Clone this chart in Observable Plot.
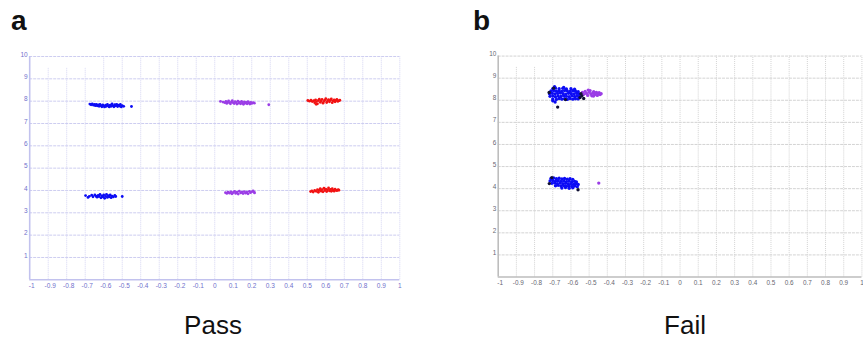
<!DOCTYPE html>
<html>
<head>
<meta charset="utf-8">
<script src="https://cdn.jsdelivr.net/npm/d3@7"></script>
<script src="https://cdn.jsdelivr.net/npm/@observablehq/plot@0.6"></script>
<style>
  html, body { margin: 0; padding: 0; background: #fff; overflow: hidden; }
  #wrap { position: relative; width: 863px; height: 339px; overflow: hidden; background: #fff; font-family: 'Liberation Sans', Arial, sans-serif; }
  .panel { position: absolute; top: 0; }
  .lab { position: absolute; color: #111; }
</style>
</head>
<body>
<div id="wrap">
  <div class="panel" id="pa" style="left:0px"></div>
  <div class="panel" id="pb" style="left:430px"></div>
  <div class="lab" style="left:11px; top:8px; font-size:28px; line-height:26px; font-weight:bold;">a</div>
  <div class="lab" style="left:473px; top:8px; font-size:28px; line-height:26px; font-weight:bold;">b</div>
  <div class="lab" style="left:13px; width:400px; text-align:center; top:314px; font-size:26px; line-height:22px;">Pass</div>
  <div class="lab" style="left:485px; width:400px; text-align:center; top:314px; font-size:26px; line-height:22px;">Fail</div>
</div>
<script>
// ---- tick labels ----
const xTicks = [-1,-0.9,-0.8,-0.7,-0.6,-0.5,-0.4,-0.3,-0.2,-0.1,0,0.1,0.2,0.3,0.4,0.5,0.6,0.7,0.8,0.9,1];
const yTicks = [1,2,3,4,5,6,7,8,9,10];

// ---- panel a (Pass) ----
const aBlueUpper = [[-0.675,7.87],[-0.668,7.84],[-0.662,7.88],[-0.655,7.82],[-0.65,7.86],[-0.645,7.80],[-0.64,7.85],[-0.635,7.79],[-0.63,7.83],[-0.625,7.77],[-0.62,7.86],[-0.615,7.80],[-0.61,7.75],[-0.605,7.83],[-0.60,7.78],[-0.595,7.74],[-0.59,7.82],[-0.585,7.77],[-0.58,7.85],[-0.575,7.79],[-0.57,7.74],[-0.565,7.82],[-0.56,7.77],[-0.555,7.88],[-0.55,7.80],[-0.545,7.75],[-0.54,7.84],[-0.535,7.79],[-0.53,7.86],[-0.525,7.76],[-0.52,7.82],[-0.515,7.78],[-0.51,7.85],[-0.505,7.74],[-0.50,7.80],[-0.492,7.77],[-0.45,7.76]];
const aPurpleUpper = [[0.031,7.99],[0.045,7.96],[0.055,7.93],[0.06,7.99],[0.065,7.90],[0.07,7.96],[0.075,8.01],[0.08,7.92],[0.085,7.88],[0.09,7.97],[0.095,8.02],[0.10,7.93],[0.105,7.89],[0.11,7.98],[0.115,7.94],[0.12,7.87],[0.125,8.00],[0.13,7.91],[0.135,7.96],[0.14,7.88],[0.145,7.99],[0.15,7.93],[0.155,7.86],[0.16,7.97],[0.165,7.91],[0.17,7.95],[0.175,7.88],[0.18,7.98],[0.185,7.92],[0.19,7.87],[0.195,7.95],[0.20,7.90],[0.207,7.93],[0.214,7.91],[0.292,7.84]];
const aRedUpper = [[0.503,8.03],[0.512,8.0],[0.52,8.04],[0.527,7.98],[0.535,8.02],[0.54,7.93],[0.545,8.06],[0.55,7.98],[0.555,7.88],[0.56,8.03],[0.565,8.09],[0.57,7.95],[0.575,8.01],[0.58,8.08],[0.585,7.91],[0.59,7.99],[0.595,8.05],[0.60,8.11],[0.605,7.94],[0.61,8.02],[0.615,8.07],[0.62,7.97],[0.625,8.04],[0.63,8.10],[0.635,7.93],[0.64,8.01],[0.645,8.06],[0.65,7.97],[0.655,8.03],[0.66,8.08],[0.665,7.99],[0.672,8.02],[0.676,8.04],[0.548,7.86]];
const aBlueLower = [[-0.698,3.77],[-0.685,3.69],[-0.678,3.74],[-0.665,3.79],[-0.658,3.72],[-0.648,3.80],[-0.642,3.75],[-0.636,3.70],[-0.63,3.78],[-0.625,3.73],[-0.62,3.82],[-0.615,3.67],[-0.61,3.76],[-0.605,3.71],[-0.60,3.80],[-0.595,3.65],[-0.59,3.74],[-0.585,3.83],[-0.58,3.69],[-0.575,3.77],[-0.57,3.72],[-0.565,3.80],[-0.56,3.68],[-0.555,3.75],[-0.548,3.71],[-0.54,3.78],[-0.535,3.73],[-0.50,3.73]];
const aPurpleLower = [[0.058,3.90],[0.065,3.87],[0.072,3.93],[0.08,3.88],[0.087,3.94],[0.093,3.85],[0.10,3.91],[0.107,3.96],[0.113,3.87],[0.12,3.92],[0.127,3.84],[0.133,3.97],[0.14,3.89],[0.147,3.93],[0.153,3.86],[0.16,3.95],[0.167,3.88],[0.173,3.92],[0.18,3.85],[0.187,3.96],[0.193,3.90],[0.20,3.94],[0.207,3.98],[0.213,3.93],[0.215,3.89]];
const aRedLower = [[0.518,3.95],[0.525,3.98],[0.532,3.93],[0.54,4.0],[0.548,3.96],[0.555,4.04],[0.56,3.92],[0.565,4.01],[0.57,4.08],[0.575,3.97],[0.58,4.04],[0.585,3.94],[0.59,4.10],[0.595,4.00],[0.60,4.06],[0.605,3.95],[0.61,4.03],[0.615,4.11],[0.62,3.98],[0.625,4.05],[0.63,3.96],[0.635,4.08],[0.64,4.01],[0.645,3.97],[0.65,4.06],[0.655,4.02],[0.66,3.99],[0.667,4.04],[0.671,4.01]];

// ---- panel b (Fail) ----
const bBlueUpper = [
 [-0.70,8.06],[-0.68,8.04],[-0.665,8.08],[-0.65,8.05],[-0.635,8.07],[-0.62,8.04],[-0.605,8.08],[-0.59,8.05],[-0.575,8.07],[-0.56,8.06],
 [-0.715,8.18],[-0.70,8.20],[-0.685,8.16],[-0.67,8.19],[-0.655,8.17],[-0.64,8.21],[-0.625,8.18],[-0.61,8.16],[-0.595,8.20],[-0.58,8.17],[-0.565,8.19],[-0.553,8.17],
 [-0.718,8.30],[-0.703,8.32],[-0.688,8.29],[-0.673,8.31],[-0.658,8.33],[-0.643,8.30],[-0.628,8.28],[-0.613,8.32],[-0.598,8.30],[-0.583,8.29],[-0.568,8.31],[-0.555,8.28],
 [-0.71,8.42],[-0.695,8.44],[-0.68,8.41],[-0.665,8.43],[-0.65,8.40],[-0.635,8.44],[-0.62,8.42],[-0.605,8.40],[-0.59,8.43],[-0.575,8.41],[-0.56,8.39],
 [-0.70,8.53],[-0.685,8.55],[-0.665,8.52],[-0.645,8.54],[-0.625,8.51],[-0.60,8.52],[-0.58,8.50],
 [-0.69,8.62],[-0.64,8.58],[-0.687,7.92],[-0.70,7.98]];
const bBlackUpper = [[-0.673,7.69],[-0.55,8.12],[-0.54,8.2],[-0.53,8.08],[-0.545,8.3],[-0.72,8.35],[-0.63,8.03],[-0.695,8.55]];
const bPurpleUpper = [[-0.537,8.35],[-0.53,8.27],[-0.522,8.40],[-0.515,8.31],[-0.508,8.22],[-0.50,8.36],[-0.495,8.44],[-0.49,8.28],[-0.485,8.20],[-0.48,8.33],[-0.475,8.39],[-0.47,8.25],[-0.465,8.31],[-0.46,8.36],[-0.455,8.22],[-0.45,8.29],[-0.445,8.34],[-0.44,8.26],[-0.434,8.30],[-0.505,8.46],[-0.476,8.19]];
const bBlueLower = [
 [-0.71,4.46],[-0.695,4.48],[-0.68,4.45],[-0.665,4.47],[-0.65,4.44],[-0.635,4.46],[-0.62,4.43],[-0.605,4.45],[-0.59,4.42],
 [-0.715,4.35],[-0.70,4.37],[-0.685,4.34],[-0.67,4.36],[-0.655,4.33],[-0.64,4.35],[-0.625,4.32],[-0.61,4.34],[-0.595,4.31],[-0.58,4.33],[-0.57,4.30],
 [-0.705,4.24],[-0.69,4.26],[-0.675,4.23],[-0.66,4.25],[-0.645,4.22],[-0.63,4.24],[-0.615,4.21],[-0.60,4.23],[-0.585,4.20],[-0.572,4.22],[-0.56,4.19],
 [-0.685,4.13],[-0.67,4.15],[-0.655,4.12],[-0.64,4.14],[-0.625,4.11],[-0.61,4.13],[-0.595,4.10],[-0.58,4.12],[-0.565,4.09],
 [-0.65,4.03],[-0.63,4.05],[-0.61,4.02],[-0.59,4.04]];
const bBlackLower = [[-0.561,3.95],[-0.719,4.23],[-0.705,4.5]];
const bPurpleLower = [[-0.447,4.25]];

const BLUE = "#0c0cf5", PURPLE = "#9b3de6", RED = "#f21212", BLACK = "#111133";

function rows(arr, c) { return arr.map(([x, y]) => ({x, y, c})); }

const fmt = d => d === 0 ? "0" : String(+d.toFixed(1));
const neg = xTicks.filter(d => d < 0), nonneg = xTicks.filter(d => d >= 0);

function panel({width, marginLeft, marginRight, marginTop, marginBottom, points, r, hgrid, vgrid, axis, label, shortBelow}) {
  const vTicks = xTicks.filter(d => d > -1);
  return Plot.plot({
    width, height: 300, marginLeft, marginRight, marginTop, marginBottom,
    x: {domain: [-1, 1], axis: null},
    y: {domain: [0, 10], axis: null},
    style: {fontFamily: "'Liberation Sans', Arial, sans-serif", background: "transparent"},
    marks: [
      Plot.ruleY(yTicks, {stroke: hgrid, strokeWidth: 1, strokeDasharray: "3,1"}),
      Plot.ruleX(vTicks, {y1: 0, y2: d => d < shortBelow ? 9.5 : 10, stroke: vgrid, strokeWidth: 1, strokeDasharray: "1,1"}),
      Plot.ruleX([-1], {y1: 0, y2: 10, stroke: axis, strokeWidth: 1.6}),
      Plot.ruleY([0], {stroke: axis, strokeWidth: 1.6}),
      Plot.dot(points, {x: "x", y: "y", fill: "c", r, stroke: null}),
      Plot.axisX(neg, {tickSize: 0, tickPadding: 4, tickFormat: fmt, fontSize: 6.5, fill: label, dx: 2, anchor: "bottom", label: null}),
      Plot.axisX(nonneg, {tickSize: 0, tickPadding: 4, tickFormat: fmt, fontSize: 6.5, fill: label, anchor: "bottom", label: null}),
      Plot.axisY(yTicks, {tickSize: 0, tickPadding: 2, tickFormat: d => String(d), fontSize: 6.5, fill: label, dy: -2, anchor: "left", label: null})
    ],
    color: {type: "identity"}
  });
}

const ptsA = [
  ...rows(aBlueUpper, BLUE), ...rows(aPurpleUpper, PURPLE), ...rows(aRedUpper, RED),
  ...rows(aBlueLower, BLUE), ...rows(aPurpleLower, PURPLE), ...rows(aRedLower, RED)
];
const ptsB = [
  ...rows(bPurpleUpper, PURPLE), ...rows(bBlueUpper, BLUE), ...rows(bBlackUpper, BLACK),
  ...rows(bBlueLower, BLUE), ...rows(bBlackLower, BLACK), ...rows(bPurpleLower, PURPLE)
];

document.getElementById("pa").append(panel({
  width: 430, marginLeft: 29.2, marginRight: 30.7, marginTop: 56, marginBottom: 20.7,
  points: ptsA, r: 1.4, hgrid: "#cdcdf0", vgrid: "#d4d4f2", axis: "#c2c2ee", label: "#7070cc",
  shortBelow: -0.65
}));
document.getElementById("pb").append(panel({
  width: 440, marginLeft: 68.8, marginRight: 1.6, marginTop: 56.5, marginBottom: 19,
  points: ptsB, r: 1.7, hgrid: "#d2d2d2", vgrid: "#d2d2d2", axis: "#bdbdbd", label: "#666670",
  shortBelow: -0.75
}));
</script>
</body>
</html>
